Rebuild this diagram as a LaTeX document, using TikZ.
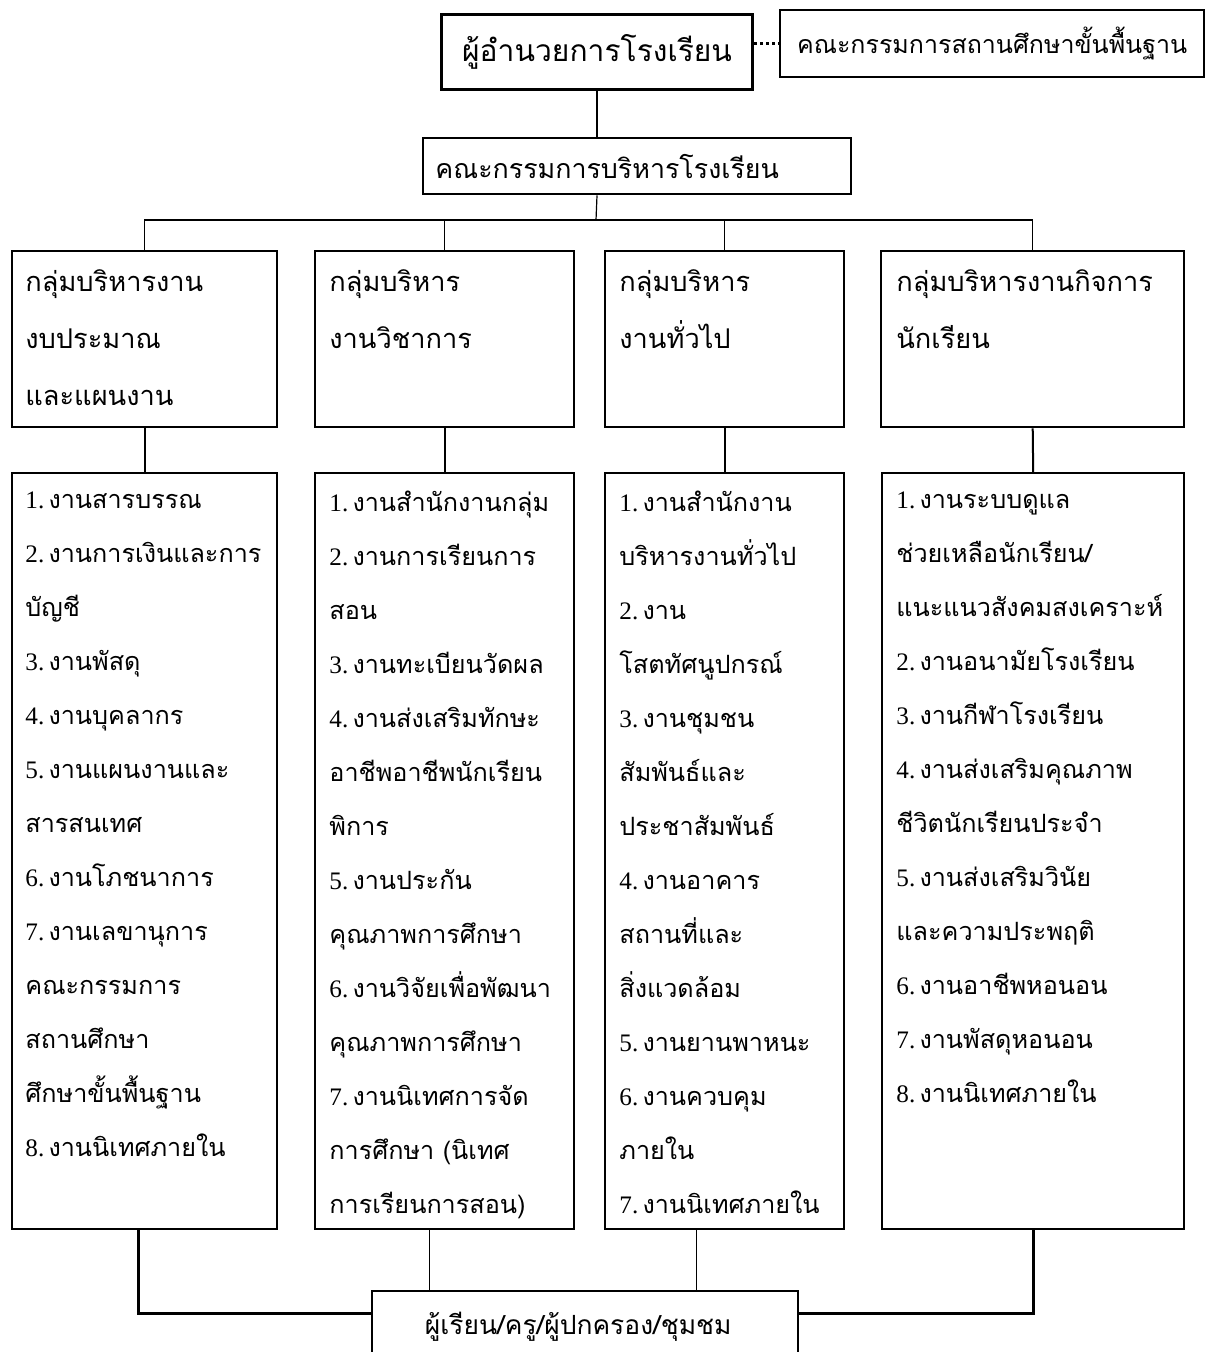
\documentclass[tikz,border=0pt]{standalone}
\usepackage{fontspec}
\setmainfont[Script=Thai]{Loma}
\newfontfamily\lat{Liberation Serif}
\usetikzlibrary{calc}
\newcommand\nn[1]{{\lat #1.}\,}
\begin{document}
\begin{tikzpicture}[x=0.5pt,y=-0.5pt,
  box/.style={draw, line width=1.2pt, inner sep=0pt, anchor=north west},
  ln/.style={line width=0.6pt},
  ln2/.style={line width=1pt},
  ln3/.style={line width=1.5pt},
  grp/.style={anchor=north west, inner sep=0pt, align=left, font=\fontsize{13.6}{28.5}\selectfont},
  lst/.style={anchor=north west, inner sep=0pt, align=left, font=\fontsize{12.6}{27}\selectfont}]
\clip (0,0) rectangle (1209,1352);
\fill[white] (0,0) rectangle (1209,1352);
% top level
\node[box, line width=1.5pt, minimum width=155.5pt, minimum height=37.5pt, font=\fontsize{15}{20}\selectfont] (top) at (440,13) {ผู้อำนวยการโรงเรียน};
\node[box, minimum width=212pt, minimum height=33.5pt, font=\fontsize{12.5}{18}\selectfont] (side) at (779,9) {คณะกรรมการสถานศึกษาขั้นพื้นฐาน};
\node[box, minimum width=214pt, minimum height=28pt, font=\fontsize{13.4}{18}\selectfont] (sec) at (422,137) {คณะกรรมการบริหารโรงเรียน\hspace*{30pt}};
% groups
\node[box, minimum width=132.5pt, minimum height=88pt] (g1) at (11,250) {};
\node[box, minimum width=129.5pt, minimum height=88pt] (g2) at (314,250) {};
\node[box, minimum width=119.5pt, minimum height=88pt] (g3) at (604,250) {};
\node[box, minimum width=151.5pt, minimum height=88pt] (g4) at (880,250) {};
\node[grp] (g1t) at (25,269) {กลุ่มบริหารงาน\\งบประมาณ\\และแผนงาน};
\node[grp] (g2t) at (329,269) {กลุ่มบริหาร\\งานวิชาการ};
\node[grp] (g3t) at (619,269) {กลุ่มบริหาร\\งานทั่วไป};
\node[grp] (g4t) at (896,269) {กลุ่มบริหารงานกิจการ\\นักเรียน};
% lists
\node[box, minimum width=132.5pt, minimum height=378pt] (l1) at (11,472) {};
\node[box, minimum width=129.5pt, minimum height=378pt] (l2) at (314,472) {};
\node[box, minimum width=119.5pt, minimum height=378pt] (l3) at (604,472) {};
\node[box, minimum width=151pt, minimum height=378pt] (l4) at (881,472) {};
\node[lst] (l1t) at (25,491) {\nn1งานสารบรรณ\\\nn2งานการเงินและการ\\บัญชี\\\nn3งานพัสดุ\\\nn4งานบุคลากร\\\nn5งานแผนงานและ\\สารสนเทศ\\\nn6งานโภชนาการ\\\nn7งานเลขานุการ\\คณะกรรมการ\\สถานศึกษา\\ศึกษาขั้นพื้นฐาน\\\nn8งานนิเทศภายใน};
\node[lst] (l2t) at (329,491) {\nn1งานสำนักงานกลุ่ม\\\nn2งานการเรียนการ\\สอน\\\nn3งานทะเบียนวัดผล\\\nn4งานส่งเสริมทักษะ\\อาชีพอาชีพนักเรียน\\พิการ\\\nn5งานประกัน\\คุณภาพการศึกษา\\\nn6งานวิจัยเพื่อพัฒนา\\คุณภาพการศึกษา\\\nn7งานนิเทศการจัด\\การศึกษา (นิเทศ\\การเรียนการสอน)};
\node[lst] (l3t) at (619,491) {\nn1งานสำนักงาน\\บริหารงานทั่วไป\\\nn2งาน\\โสตทัศนูปกรณ์\\\nn3งานชุมชน\\สัมพันธ์และ\\ประชาสัมพันธ์\\\nn4งานอาคาร\\สถานที่และ\\สิ่งแวดล้อม\\\nn5งานยานพาหนะ\\\nn6งานควบคุม\\ภายใน\\\nn7งานนิเทศภายใน};
\node[lst] (l4t) at (896,491) {\nn1งานระบบดูแล\\ช่วยเหลือนักเรียน/\\แนะแนวสังคมสงเคราะห์\\\nn2งานอนามัยโรงเรียน\\\nn3งานกีฬาโรงเรียน\\\nn4งานส่งเสริมคุณภาพ\\ชีวิตนักเรียนประจำ\\\nn5งานส่งเสริมวินัย\\และความประพฤติ\\\nn6งานอาชีพหอนอน\\\nn7งานพัสดุหอนอน\\\nn8งานนิเทศภายใน};
% bottom
\node[box, minimum width=213pt, minimum height=36pt, font=\fontsize{13.2}{18}\selectfont] (bot) at (371,1290) {ผู้เรียน/ครู/ผู้ปกครอง/ชุมชม\hspace*{7pt}};
% connectors
\coordinate (bus) at (596,220);
\draw[line width=1.5pt, dash pattern=on 1.5pt off 1.5pt] (top.east |- side.west) -- (side.west);
\draw[ln] (top.south) -- (top.south |- sec.north);
\draw[ln] (top.south |- sec.south) -- (bus);
\draw[ln] (g1.north) -- (g1.north |- bus) -- (g4.north |- bus) -- (g4.north);
\draw[ln] (g2.north) -- (g2.north |- bus);
\draw[ln] (g3.north) -- (g3.north |- bus);
\draw[ln2] (g1.south) -- (l1.north);
\draw[ln2] (g2.south) -- (l2.north);
\draw[ln2] (g3.south) -- (l3.north);
\draw[ln2] (g4.south) -- (l4.north);
\coordinate (bl) at ($(bot.north west)+(0,23)$);
\coordinate (br) at ($(bot.north east)+(0,23)$);
\draw[ln3] ([xshift=-3pt]l1.south) |- (bl);
\draw[ln3] (l4.south) |- (br);
\draw[ln] ([xshift=-7.5pt]l2.south) -- ([xshift=-7.5pt]l2.south |- bot.north);
\draw[ln] ([xshift=-14.25pt]l3.south) -- ([xshift=-14.25pt]l3.south |- bot.north);
\end{tikzpicture}
\end{document}
